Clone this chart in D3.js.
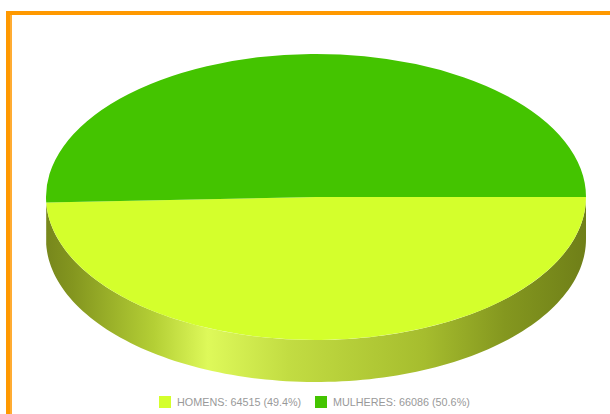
<!DOCTYPE html>
<html>
<head>
<meta charset="utf-8">
<script src="https://cdn.jsdelivr.net/npm/d3@7/dist/d3.min.js"></script>
<style>
  html, body { margin: 0; padding: 0; background: #fff; }
  svg { display: block; }
  text { font-family: "Liberation Sans", Arial, sans-serif; }
</style>
</head>
<body>
<div id="chart"></div>
<script>
// Population by sex
const categories = ["HOMENS", "MULHERES"];
const values = [64515, 66086];
const sliceColors = ["#d4ff2c", "#44c400"];
const legendLabels = ["HOMENS: 64515 (49.4%)", "MULHERES: 66086 (50.6%)"];

// Shading of the rim, read left to right along the disc
const rimOffsets = [0, 0.05, 0.2, 0.3, 0.45, 0.7, 0.85, 1];
const rimColors = ["#77871c", "#84961f", "#b4cf35", "#def95a", "#c2dc42", "#a6bd2e", "#84971f", "#6f7f18"];

const width = 610, height = 414;
const cx = 316, cy = 197, rx = 270, ry = 143, depth = 42;

const svg = d3.select("#chart").append("svg")
  .attr("width", width).attr("height", height);

// Frame: orange rules along the top and left edges
svg.append("rect").attr("x", 6).attr("y", 11).attr("width", width - 6).attr("height", 4).attr("fill", "#ff9900");
svg.append("rect").attr("x", 6).attr("y", 11).attr("width", 4).attr("height", height - 11).attr("fill", "#ff9900");
svg.append("rect").attr("x", 10).attr("y", 15).attr("width", 2).attr("height", height - 15).attr("fill", "#ffac33");

const defs = svg.append("defs");
const rimGradient = defs.append("linearGradient")
  .attr("id", "rim")
  .attr("gradientUnits", "userSpaceOnUse")
  .attr("x1", cx - rx).attr("x2", cx + rx)
  .attr("y1", 0).attr("y2", 0);
rimOffsets.forEach((o, i) => {
  rimGradient.append("stop").attr("offset", o).attr("stop-color", rimColors[i]);
});

// Slices start on the right of the disc and run clockwise through the front
const pie = d3.pie().sort(null).startAngle(Math.PI / 2).endAngle(Math.PI / 2 + 2 * Math.PI);
const slices = pie(values);

// The front rim follows the first slice, on an ellipse sampled along its span
const front = slices[0];
const sweep = d3.scaleLinear().domain([0, 120]).range([front.startAngle, front.endAngle]);
const ellipseX = a => cx + rx * Math.sin(a);
const ellipseY = a => cy - ry * Math.cos(a);
const samples = d3.range(0, 121).map(sweep);
const upperEdge = samples.map(a => [ellipseX(a), ellipseY(a)]);
const lowerEdge = samples.slice().reverse().map(a => [ellipseX(a), ellipseY(a) + depth]);

svg.append("path")
  .attr("d", d3.line()(upperEdge.concat(lowerEdge)) + "Z")
  .attr("fill", "url(#rim)");

// Top face: a circular d3.arc squashed into the ellipse
const arc = d3.arc().innerRadius(0).outerRadius(rx);
svg.append("g")
  .attr("transform", `translate(${cx},${cy}) scale(1,${ry / rx})`)
  .selectAll("path")
  .data(slices)
  .join("path")
  .attr("d", arc)
  .attr("fill", (d, i) => sliceColors[i]);

// Legend
const legendX = [159, 315];
const legend = svg.append("g").selectAll("g")
  .data(categories)
  .join("g")
  .attr("transform", (d, i) => `translate(${legendX[i]},396)`);
legend.append("rect")
  .attr("width", 12).attr("height", 12)
  .attr("fill", (d, i) => sliceColors[i]);
legend.append("text")
  .attr("x", 18).attr("y", 10)
  .attr("font-size", 10.8)
  .attr("fill", "#999999")
  .text((d, i) => legendLabels[i]);
</script>
</body>
</html>
